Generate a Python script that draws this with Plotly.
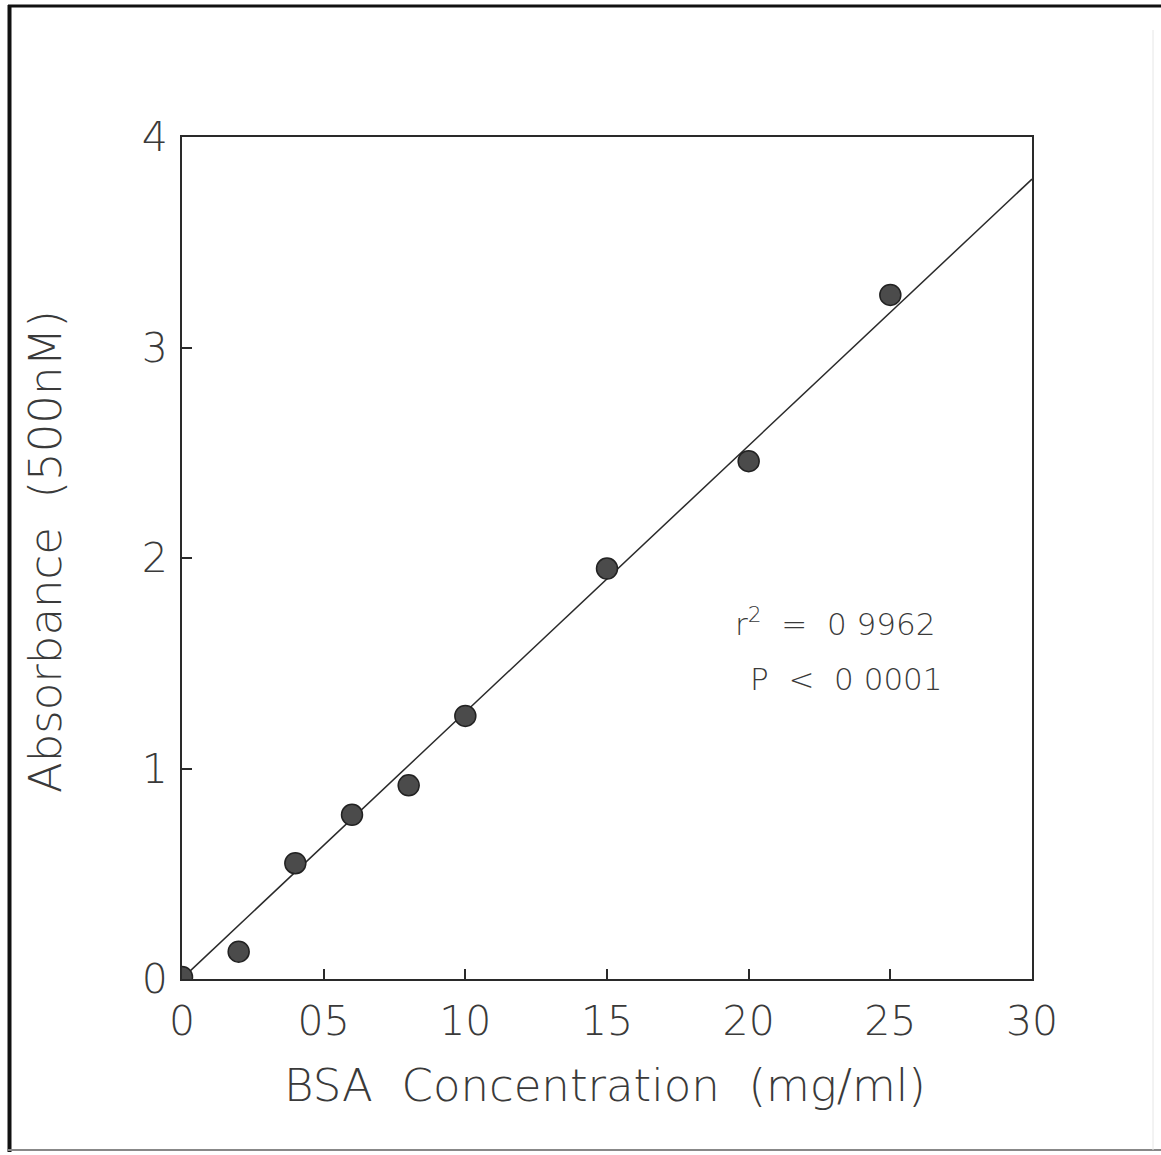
import plotly.graph_objects as go

# Data
conc = [0.0, 0.2, 0.4, 0.6, 0.8, 1.0, 1.5, 2.0, 2.5]
absorb = [0.01, 0.13, 0.55, 0.78, 0.92, 1.25, 1.95, 2.46, 3.25]
fit_x = [0.03, 3.0]
fit_y = [0.04, 3.80]
x_tickvals = [0, 0.5, 1.0, 1.5, 2.0, 2.5, 3.0]
x_ticktext = ["0", "05", "10", "15", "20", "25", "30"]
y_tickvals = [0, 1, 2, 3, 4]
y_ticktext = ["0", "1", "2", "3", "4"]

FONT = "DejaVu Sans"
TXT = "#3a3a3a"

fig = go.Figure()
fig.add_trace(go.Scatter(x=fit_x, y=fit_y, mode="lines",
                         line=dict(color="#2a2a2a", width=1.5),
                         showlegend=False, hoverinfo="skip"))
fig.add_trace(go.Scatter(x=conc, y=absorb, mode="markers",
                         marker=dict(size=21, color="#4b4b4b",
                                     line=dict(color="#222222", width=1.5)),
                         cliponaxis=True, showlegend=False))

axis_common = dict(showgrid=False, zeroline=False, showline=True, mirror=True,
                   linecolor="#2a2a2a", linewidth=2, ticks="inside",
                   ticklen=10, tickwidth=1.5, tickcolor="#2a2a2a",
                   tickfont=dict(family=FONT, size=41, color=TXT, weight=200))

fig.update_xaxes(range=[0, 3.0], tickvals=x_tickvals, ticktext=x_ticktext,
                 ticklabelstandoff=5, **axis_common)
fig.update_yaxes(range=[0, 4.0], tickvals=y_tickvals, ticktext=y_ticktext,
                 ticklabelstandoff=4, **axis_common)


def px(xp):
    return (xp - 182) / 850


def py(yp):
    return (979 - yp) / 842


fig.add_annotation(text="BSA  Concentration  (mg/ml)", xref="paper", yref="paper",
                   x=px(605), y=py(1085), xanchor="center", yanchor="middle",
                   showarrow=False,
                   font=dict(family=FONT, size=45, color=TXT, weight=200))
fig.add_annotation(text="Absorbance  (500nM)", xref="paper", yref="paper",
                   x=px(45), y=py(552), xanchor="center", yanchor="middle",
                   showarrow=False, textangle=-90,
                   font=dict(family=FONT, size=45, color=TXT, weight=200))
fig.add_annotation(text="r<sup>2</sup>  =  0 9962", xref="paper", yref="paper",
                   x=px(733), y=py(622), showarrow=False,
                   xanchor="left", yanchor="middle",
                   font=dict(family=FONT, size=31, color=TXT, weight=200))
fig.add_annotation(text="P  <  0 0001", xref="paper", yref="paper",
                   x=px(748), y=py(679), showarrow=False,
                   xanchor="left", yanchor="middle",
                   font=dict(family=FONT, size=31, color=TXT, weight=200))

fig.add_shape(type="line", xref="paper", yref="paper", x0=px(9.5), x1=px(9.5),
              y0=py(5), y1=py(1152), line=dict(color="#111111", width=4))
fig.add_shape(type="line", xref="paper", yref="paper", x0=px(8), x1=px(1161),
              y0=py(6), y1=py(6), line=dict(color="#111111", width=3))
fig.add_shape(type="line", xref="paper", yref="paper", x0=px(8), x1=px(1161),
              y0=py(1150), y1=py(1150), line=dict(color="#888888", width=2))
fig.add_shape(type="line", xref="paper", yref="paper", x0=px(1153), x1=px(1153),
              y0=py(30), y1=py(1150), line=dict(color="#e6e6e6", width=1))

fig.update_layout(width=1161, height=1155,
                  margin=dict(l=182, r=129, t=137, b=176),
                  paper_bgcolor="white", plot_bgcolor="white")

fig.write_html("out.html", config={"displayModeBar": False},
               post_script="document.body.style.margin='0';"
                           "document.body.style.overflow='hidden';")
